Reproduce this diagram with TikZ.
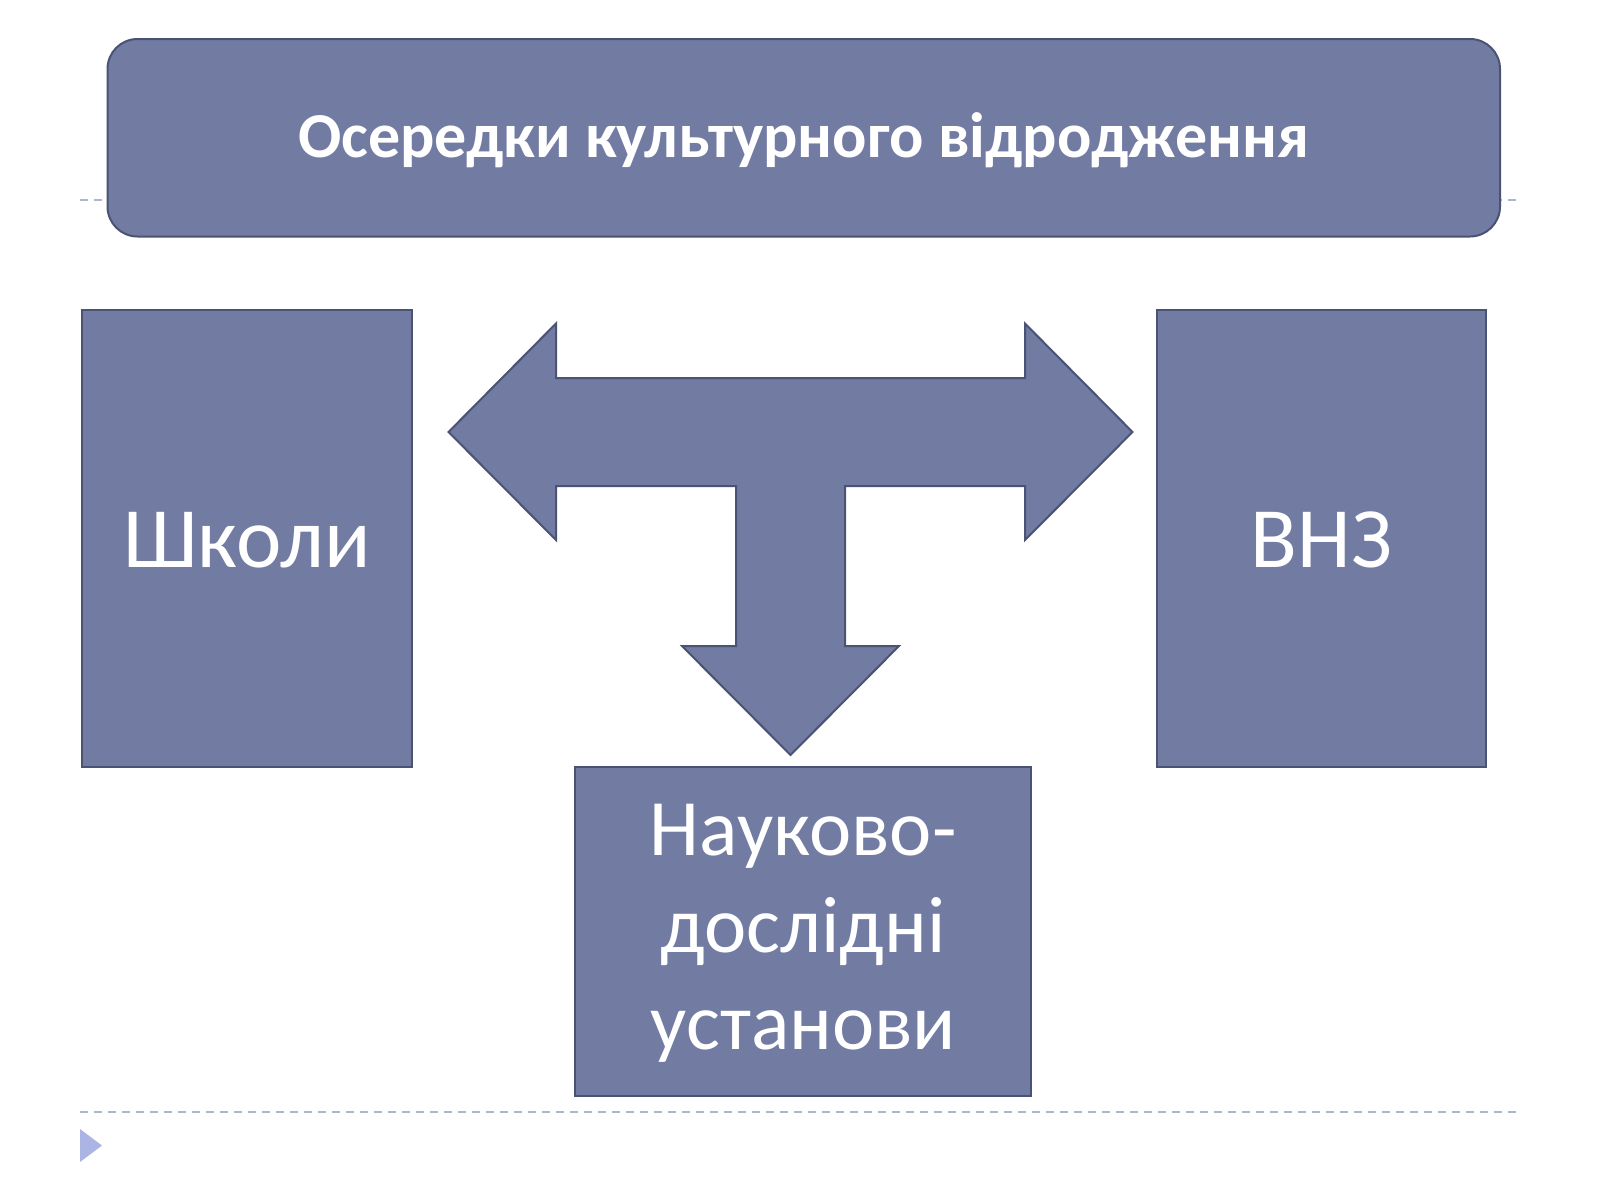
\documentclass[tikz,border=0pt]{standalone}
\usepackage{fontspec}
\setmainfont{Carlito}
\definecolor{boxfill}{HTML}{727CA3}
\definecolor{boxline}{HTML}{4A5373}
\definecolor{dashc}{HTML}{A9B8CC}
\begin{document}
\begin{tikzpicture}[x=1pt,y=-1pt,
  blk/.style={fill=boxfill,draw=boxline,line width=2pt},
  txt/.style={text=white,align=center}]
\useasboundingbox (0,0) rectangle (1600,1200);
\draw[dashc,line width=1.5pt,dash pattern=on 8pt off 6pt] (80,200) -- (1521,200);
\draw[dashc,line width=1.5pt,dash pattern=on 8pt off 6pt] (80,1112) -- (1521,1112);
\fill[dashc!80!blue!70!white] (80,1129) -- (102,1145.5) -- (80,1162) -- cycle;
\draw[blk,rounded corners=30pt] (107.5,39) rectangle (1500,236.5);
\node[txt,font=\fontsize{64}{70}\selectfont\bfseries] (title) at (803.5,140) {Осередки культурного відродження};
\draw[blk] (82,310) rectangle (412,767);
\node[txt,font=\fontsize{86}{90}\selectfont] (shk) at (247,540) {Школи};
\draw[blk] (1157,310) rectangle (1486,767);
\node[txt,font=\fontsize{86}{90}\selectfont] (vnz) at (1321.5,540) {ВНЗ};
\draw[blk] (575,767) rectangle (1031,1096);
\node[txt,font=\fontsize{80}{97}\selectfont] (nauk) at (803,933) {Науково-\\дослідні\\установи};
\draw[blk,line join=miter] (448.5,432) -- (556,323.5) -- (556,378) -- (1025,378) -- (1025,323.5) -- (1132.5,432)
  -- (1025,540) -- (1025,486) -- (845,486) -- (845,646) -- (899,646) -- (790.5,755) -- (682,646)
  -- (736,646) -- (736,486) -- (556,486) -- (556,540) -- cycle;
\end{tikzpicture}
\end{document}
